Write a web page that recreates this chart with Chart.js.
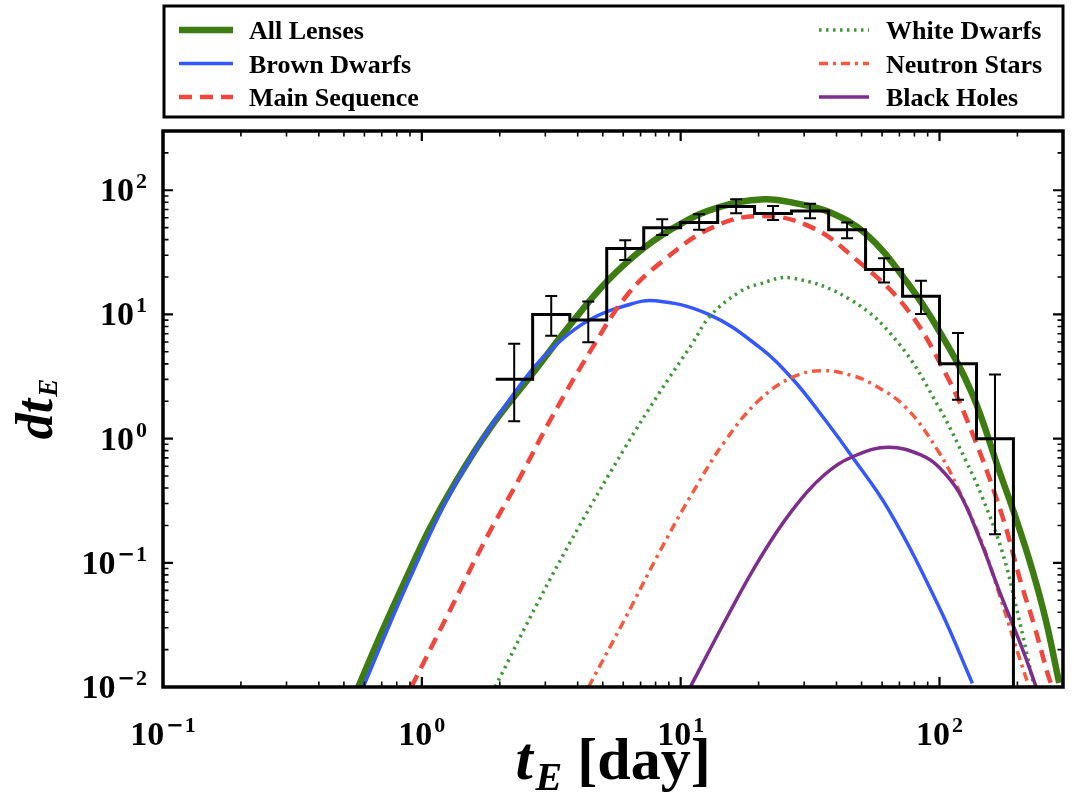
<!DOCTYPE html>
<html>
<head>
<meta charset="utf-8">
<title>Einstein crossing time distribution</title>
<script src="https://cdn.jsdelivr.net/npm/chart.js@4.4.1/dist/chart.umd.min.js"></script>
<style>
  html, body { margin: 0; padding: 0; background: #fff; }
  #wrap { position: relative; width: 1074px; height: 793px; }
</style>
</head>
<body>
<div id="wrap"><canvas id="ChartTE"></canvas></div>
<script>
(function () {
  "use strict";

  // Observed histogram: bin edges [day], counts and error bar ends
  const histEdges  = [1.93, 2.68, 3.73, 5.18, 7.2, 10, 13.9, 19.3, 26.8, 37.3, 51.8, 72, 100, 139, 193];
  const histCounts = [3, 10, 9, 34, 50, 55, 74, 65, 68, 48, 23, 14, 4, 1];
  const errHigh    = [5.81, 14.1, 12.7, 39.6, 58.5, 64.1, 84.7, 74.8, 78.0, 54.9, 28.4, 18.7, 7.09, 3.28];
  const errLow     = [1.38, 6.74, 5.96, 27.4, 43.7, 48.0, 65.3, 57.7, 59.6, 41.1, 18.1, 10.1, 2.06, 0.17];

  // Model curves (t_E in days, rate)
  const allT = [0.568, 0.697, 0.863, 1.069, 1.324, 1.808, 2.677, 3.754, 5.22, 7.255, 10.0, 13.9, 20.95, 28.6, 37.4, 51.96, 74.2, 99.6, 133.6, 169.9, 197.2, 228.6, 257.5, 290];
  const allY = [0.01, 0.0271, 0.0723, 0.186, 0.417, 1.162, 3.34, 8.32, 18.66, 34.6, 53.6, 72.5, 84.7, 77.6, 66.9, 44.5, 18.66, 7.39, 2.31, 0.554, 0.229, 0.087, 0.0345, 0.0108];

  const bdT = [0.594, 0.892, 1.372, 2.47, 3.37, 4.45, 6.11, 7.98, 12.83, 20.03, 26.96, 36.3, 45.4, 63.8, 99.6, 134];
  const bdY = [0.01, 0.0723, 0.46, 2.93, 5.92, 9.06, 11.75, 12.89, 10.0, 5.5, 3.05, 1.398, 0.741, 0.264, 0.0441, 0.0107];

  const msT = [0.911, 1.266, 1.756, 2.398, 3.178, 4.538, 6.181, 8.446, 13.22, 20.63, 32.2, 47.4, 74.0, 105.7, 133.6, 174.5, 206.7, 232.1, 260.6, 272.4];
  const msY = [0.01, 0.039, 0.1517, 0.4896, 1.486, 5.3, 14.14, 26.5, 50.05, 62.1, 50.05, 27.9, 11.38, 3.32, 1.12, 0.241, 0.0684, 0.0315, 0.0132, 0.01];

  const wdT = [1.92, 2.823, 4.031, 6.11, 8.222, 11.06, 13.03, 16.77, 20.03, 26.96, 46.0, 69.7, 99.6, 126.3, 146.4, 175, 197.2, 218.1, 232.1];
  const wdY = [0.01, 0.049, 0.1929, 0.853, 2.292, 5.78, 9.76, 15.03, 17.55, 19.62, 12.89, 5.81, 1.778, 0.667, 0.336, 0.1215, 0.0455, 0.018, 0.01];

  const nsT = [4.406, 6.11, 8.222, 11.06, 14.89, 20.03, 26.96, 35.2, 46.0, 54.95, 74.0, 99.6, 119, 146.4, 169.9, 185.7, 203, 221.9];
  const nsY = [0.01, 0.0358, 0.1186, 0.36, 0.9654, 2.024, 3.115, 3.527, 3.216, 2.757, 1.788, 0.773, 0.3826, 0.1426, 0.0565, 0.0315, 0.0175, 0.01];

  const bhT = [10.9, 14.89, 20.03, 26.96, 36.3, 47.4, 63.8, 85.8, 99.6, 119, 142.2, 169.9, 197.2, 215.6, 236.2];
  const bhY = [0.01, 0.0345, 0.1047, 0.2642, 0.5212, 0.7313, 0.853, 0.7313, 0.589, 0.3687, 0.1603, 0.0601, 0.0276, 0.01707, 0.01];

  // Axis ticks (decade exponents)
  const xTickExp = [-1, 0, 1, 2];
  const yTickExp = [-2, -1, 0, 1, 2];

  // Colors
  const c_all = '#3d7c10';
  const c_bd  = '#3358ff';
  const c_ms  = '#f0463c';
  const c_wd  = '#3a9930';
  const c_ns  = '#f65a3d';
  const c_bh  = '#7d2d8c';

  const pts = (xs, ys) => xs.map((v, i) => ({ x: v, y: ys[i] }));

  const histPts = [];
  histCounts.forEach((c, i) => {
    histPts.push({ x: histEdges[i], y: c }, { x: histEdges[i + 1], y: c });
  });
  histPts.push({ x: histEdges[histEdges.length - 1], y: 0.01 });

  const curve = (label, xs, ys, color, width, dash, order) => ({
    label: label,
    data: pts(xs, ys),
    borderColor: color,
    borderWidth: width,
    borderDash: dash,
    borderCapStyle: 'butt',
    tension: 0.4,
    pointRadius: 0,
    fill: false,
    clip: 0,
    order: order
  });

  const baseFont  = 'bold 34px "Liberation Serif"';
  const supFont   = 'bold 22px "Liberation Serif"';
  const minusFont = 'bold 21px "DejaVu Sans"';

  function drawPow(ctx, exp, x, baseY, align) {
    const supTxt = String(Math.abs(exp));
    ctx.font = baseFont;
    const wb = ctx.measureText('10').width;
    ctx.font = minusFont;
    const wm = exp < 0 ? ctx.measureText('\u2212').width + 1 : 0;
    ctx.font = supFont;
    const ws = ctx.measureText(supTxt).width;
    const gap = 2;
    const total = wb + gap + wm + ws;
    const left = align === 'right' ? x - total : x - total / 2;
    ctx.textAlign = 'left';
    ctx.textBaseline = 'alphabetic';
    ctx.font = baseFont;
    ctx.fillText('10', left, baseY);
    let sx = left + wb + gap;
    if (exp < 0) {
      ctx.font = minusFont;
      ctx.fillText('\u2212', sx, baseY - 13);
      sx += wm;
    }
    ctx.font = supFont;
    ctx.fillText(supTxt, sx, baseY - 13);
  }

  function logTicks(min, max) {
    const major = [], minor = [];
    for (let e = Math.floor(Math.log10(min)); e <= Math.ceil(Math.log10(max)); e++) {
      const d = Math.pow(10, e);
      if (d >= min && d <= max) major.push(d);
      for (let m = 2; m < 10; m++) {
        const v = m * d;
        if (v > min && v < max) minor.push(v);
      }
    }
    return { major, minor };
  }

  // Error bars on the histogram
  const errorBars = {
    id: 'errorBars',
    afterDatasetsDraw(chart) {
      const { ctx, scales: { x, y } } = chart;
      ctx.save();
      ctx.strokeStyle = '#000';
      ctx.lineWidth = 2;
      histCounts.forEach((c, i) => {
        const px = x.getPixelForValue(Math.sqrt(histEdges[i] * histEdges[i + 1]));
        const top = y.getPixelForValue(errHigh[i]);
        const bot = y.getPixelForValue(errLow[i]);
        ctx.beginPath();
        ctx.moveTo(px, top); ctx.lineTo(px, bot);
        ctx.moveTo(px - 6, top); ctx.lineTo(px + 6, top);
        ctx.moveTo(px - 6, bot); ctx.lineTo(px + 6, bot);
        ctx.stroke();
      });
      ctx.restore();
    }
  };

  // Frame, inward ticks, tick labels and axis titles
  const frameAxes = {
    id: 'frameAxes',
    afterDraw(chart) {
      const { ctx, chartArea: a, scales: { x, y } } = chart;
      ctx.save();
      ctx.strokeStyle = '#000';
      ctx.fillStyle = '#000';

      const xt = logTicks(x.min, x.max);
      const yt = logTicks(y.min, y.max);
      const drawTicks = (vals, len, w) => {
        ctx.lineWidth = w;
        ctx.beginPath();
        vals.x.forEach(v => {
          const p = x.getPixelForValue(v);
          ctx.moveTo(p, a.bottom); ctx.lineTo(p, a.bottom - len);
          ctx.moveTo(p, a.top); ctx.lineTo(p, a.top + len);
        });
        vals.y.forEach(v => {
          const p = y.getPixelForValue(v);
          ctx.moveTo(a.left, p); ctx.lineTo(a.left + len, p);
          ctx.moveTo(a.right, p); ctx.lineTo(a.right - len, p);
        });
        ctx.stroke();
      };
      drawTicks({ x: xt.major, y: yt.major }, 10, 2.2);
      drawTicks({ x: xt.minor, y: yt.minor }, 5.5, 1.6);

      ctx.lineWidth = 3.5;
      ctx.strokeRect(a.left, a.top, a.right - a.left, a.bottom - a.top);

      xTickExp.forEach(e => drawPow(ctx, e, x.getPixelForValue(Math.pow(10, e)), a.bottom + 58, 'center'));
      yTickExp.forEach(e => drawPow(ctx, e, a.left - 16, y.getPixelForValue(Math.pow(10, e)) + 11, 'right'));

      // x title: t_E [day]
      ctx.textBaseline = 'alphabetic';
      ctx.textAlign = 'left';
      const tF = 'bold italic 62px "Liberation Serif"';
      const eF = 'bold italic 40px "Liberation Serif"';
      const dF = 'bold 60px "Liberation Serif"';
      ctx.font = tF; const wt = ctx.measureText('t').width + 3;
      ctx.font = eF; const we = ctx.measureText('E').width;
      ctx.font = dF; const wd = ctx.measureText(' [day]').width;
      let sx = (a.left + a.right) / 2 - (wt + we + wd) / 2;
      const by = 779;
      ctx.font = tF; ctx.fillText('t', sx, by); sx += wt;
      ctx.font = eF; ctx.fillText('E', sx, by + 11); sx += we;
      ctx.font = dF; ctx.fillText(' [day]', sx, by);

      // y title: dt_E
      const yF = 'bold italic 52px "Liberation Serif"';
      const ysF = 'bold italic 27px "Liberation Serif"';
      ctx.font = yF; const wdt = ctx.measureText('dt').width + 2;
      ctx.font = ysF; const wyE = ctx.measureText('E').width;
      ctx.translate(52, (a.top + a.bottom) / 2 + (wdt + wyE) / 2);
      ctx.rotate(-Math.PI / 2);
      ctx.font = yF; ctx.fillText('dt', 0, 0);
      ctx.font = ysF; ctx.fillText('E', wdt, 5);
      ctx.restore();
    }
  };

  // Legend in its own box above the axes
  const boxLegend = {
    id: 'boxLegend',
    afterDraw(chart) {
      const { ctx } = chart;
      const items = chart.data.datasets.filter(d => d.label);
      const rows = [30, 63.5, 97];
      ctx.save();
      ctx.strokeStyle = '#000';
      ctx.lineWidth = 3;
      ctx.strokeRect(164, 6, 899, 111);
      ctx.font = 'bold 26px "Liberation Serif"';
      ctx.fillStyle = '#000';
      ctx.textAlign = 'left';
      ctx.textBaseline = 'alphabetic';
      items.forEach((d, i) => {
        const col = i < 3 ? 0 : 1;
        const yy = rows[i % 3];
        const x0 = col === 0 ? 179 : 819;
        const x1 = col === 0 ? 233 : 869;
        const tx = col === 0 ? 249 : 886;
        ctx.save();
        ctx.strokeStyle = d.borderColor;
        ctx.lineWidth = d.borderWidth;
        ctx.lineCap = 'butt';
        ctx.setLineDash(d.borderDash || []);
        ctx.beginPath();
        ctx.moveTo(x0, yy); ctx.lineTo(x1, yy);
        ctx.stroke();
        ctx.restore();
        ctx.fillText(d.label, tx, yy + 9);
      });
      ctx.restore();
    }
  };

  const chart_te = document.getElementById('ChartTE');
  if (chart_te != null) {
    const ctx = chart_te.getContext('2d');
    const TeChart = new Chart(ctx, {
      type: 'line',
      data: {
        datasets: [
          curve('All Lenses',    allT, allY, c_all, 6.5, [],             6),
          curve('Brown Dwarfs',  bdT,  bdY,  c_bd,  3.5, [],             5),
          curve('Main Sequence', msT,  msY,  c_ms,  4.5, [13, 8],        4),
          curve('White Dwarfs',  wdT,  wdY,  c_wd,  3.5, [2.5, 4.5],     3),
          curve('Neutron Stars', nsT,  nsY,  c_ns,  3.5, [9, 5, 3, 5],   2),
          curve('Black Holes',   bhT,  bhY,  c_bh,  3.5, [],             1),
          {
            data: histPts,
            borderColor: '#000',
            borderWidth: 3,
            borderJoinStyle: 'miter',
            tension: 0,
            pointRadius: 0,
            fill: false,
            clip: 0,
            order: 0
          }
        ]
      },
      options: {
        responsive: true,
        maintainAspectRatio: false,
        animation: false,
        events: [],
        layout: {
          padding: { left: 163, right: 11, top: 131, bottom: 106 }
        },
        scales: {
          x: { type: 'logarithmic', min: 0.1, max: 300, display: false },
          y: { type: 'logarithmic', min: 0.01, max: 300, display: false }
        },
        plugins: {
          legend: { display: false },
          tooltip: { enabled: false }
        }
      },
      plugins: [errorBars, frameAxes, boxLegend]
    });
  }
})();
</script>
</body>
</html>
